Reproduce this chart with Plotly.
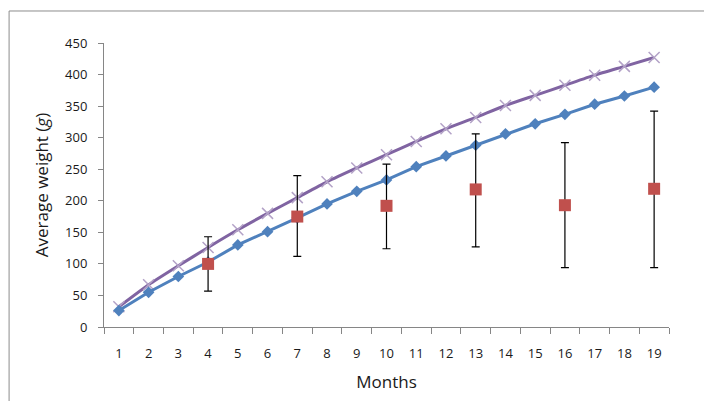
import plotly.graph_objects as go

months = list(range(1, 20))
predicted_a = [26, 55, 80, 103, 130, 151, 173, 195, 215, 233, 254, 271, 288, 306, 322, 337, 353, 366, 380]
predicted_b = [32, 67, 97, 126, 154, 180, 205, 230, 252, 273, 294, 314, 332, 351, 367, 383, 399, 413, 427]
obs_months = [4, 7, 10, 13, 16, 19]
obs_mean = [100, 175, 192, 218, 193, 219]
obs_upper = [143, 240, 258, 306, 292, 342]
obs_lower = [57, 112, 124, 127, 94, 94]

err_plus = [u - m for u, m in zip(obs_upper, obs_mean)]
err_minus = [m - l for m, l in zip(obs_mean, obs_lower)]

fig = go.Figure()
fig.add_trace(go.Scatter(
    x=months, y=predicted_b, mode="lines+markers",
    line=dict(color="#8064A2", width=3, shape="spline", smoothing=0.6),
    marker=dict(symbol="x-thin", size=11, line=dict(color="#B3A2C7", width=1.5), color="#B3A2C7"),
    showlegend=False))
fig.add_trace(go.Scatter(
    x=months, y=predicted_a, mode="lines+markers",
    line=dict(color="#4F81BD", width=3),
    marker=dict(symbol="diamond", size=9, color="#4F81BD"),
    showlegend=False))
fig.add_trace(go.Scatter(
    x=obs_months, y=obs_mean, mode="markers",
    marker=dict(symbol="square", size=12, color="#C0504D"),
    error_y=dict(type="data", symmetric=False, array=err_plus, arrayminus=err_minus,
                 color="#000000", thickness=1.2, width=4),
    showlegend=False))

axis_color = "#868686"
fig.update_layout(
    width=712, height=401,
    margin=dict(l=96, r=51, t=35, b=82),
    paper_bgcolor="white", plot_bgcolor="white",
    font=dict(family="Open Sans, Liberation Sans, sans-serif", color="#1a1a1a"),
    xaxis=dict(
        range=[0.5, 19.5], tickvals=months, ticktext=[str(m) for m in months],
        ticks="", showgrid=False, zeroline=False, showline=True,
        linecolor=axis_color, linewidth=1,
        tickfont=dict(size=13), ticklabelstandoff=14,
        minor=dict(tick0=0.5, dtick=1, ticks="outside", ticklen=6, tickcolor=axis_color, showgrid=False),
        title=dict(text="Months", font=dict(size=17), standoff=15),
    ),
    yaxis=dict(
        range=[0, 450], tickvals=list(range(0, 451, 50)),
        ticks="outside", ticklen=5, tickcolor=axis_color,
        showgrid=False, zeroline=False, showline=True,
        linecolor=axis_color, linewidth=1,
        tickfont=dict(size=13), ticklabelstandoff=8,
        title=dict(text="Average weight (<i>g</i>)", font=dict(size=17), standoff=12),
    ),
    shapes=[dict(type="rect", xref="paper", yref="paper",
                 x0=-0.168, x1=1.15, y0=-0.35, y1=1.1127,
                 line=dict(color="#8C8C8C", width=1), layer="below")],
)

fig.write_html("out.html")
